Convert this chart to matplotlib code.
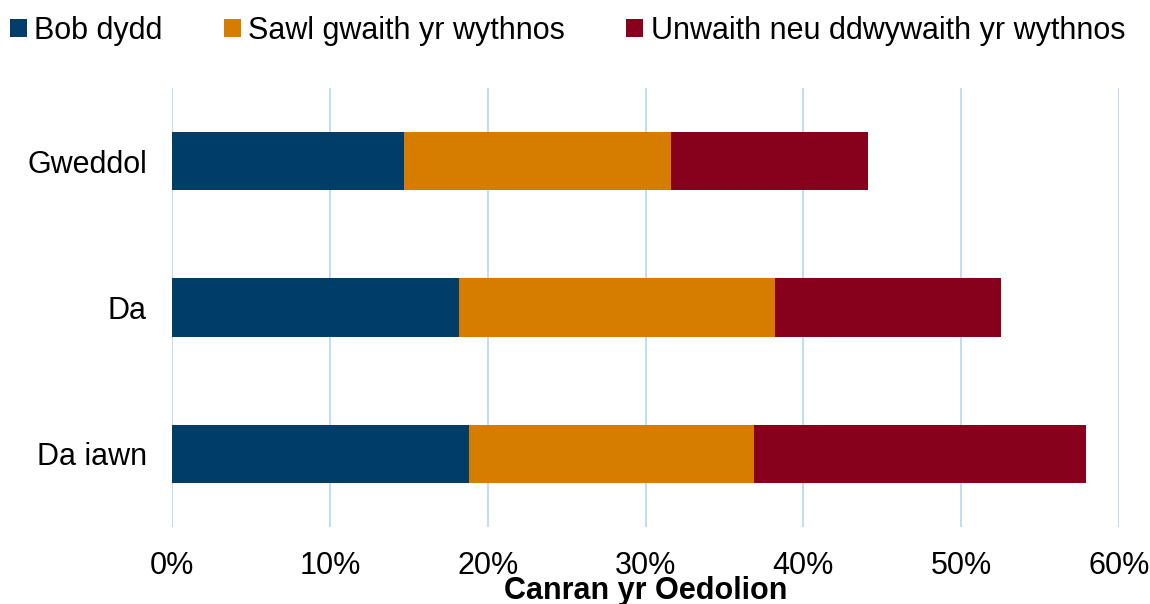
import matplotlib
matplotlib.use("Agg")
import matplotlib.pyplot as plt
from matplotlib.patches import Patch
from matplotlib.ticker import FuncFormatter, MultipleLocator

plt.rcParams['font.family'] = ['Liberation Sans', 'DejaVu Sans']

categories = ["Gweddol", "Da", "Da iawn"]
series_names = ["Bob dydd", "Sawl gwaith yr wythnos", "Unwaith neu ddwywaith yr wythnos"]
bob_dydd = [14.7, 18.2, 18.8]
sawl_gwaith = [16.9, 20.0, 18.1]
unwaith = [12.5, 14.3, 21.0]
colors = ["#003D69", "#D67D00", "#87001C"]
x_label = "Canran yr Oedolion"

fig = plt.figure(figsize=(11.5, 6.04), dpi=100)
ax = fig.add_axes([172/1150, 1 - 527/604, (1119 - 172)/1150, (527 - 88)/604])

ypos = list(range(len(categories)))
left = [0.0] * len(categories)
for vals, col in zip([bob_dydd, sawl_gwaith, unwaith], colors):
    ax.barh(ypos, vals, left=left, height=0.4, color=col, zorder=3)
    left = [l + v for l, v in zip(left, vals)]

ax.set_ylim(len(categories) - 0.5, -0.5)
ax.set_yticks(ypos)
ax.set_yticklabels(categories, fontsize=22)
ax.set_xlim(0, 60)
ax.xaxis.set_major_locator(MultipleLocator(10))
ax.xaxis.set_major_formatter(FuncFormatter(lambda v, p: f"{v:.0f}%"))
ax.tick_params(axis='x', labelsize=22, length=0, pad=17)
ax.tick_params(axis='y', length=0, pad=18)
ax.grid(axis='x', color="#C4DAF5", linewidth=1.5, zorder=0)
ax.grid(axis='y', visible=False)
for s in ax.spines.values():
    s.set_visible(False)
ax.set_xlabel(x_label, fontsize=22, fontweight='bold', labelpad=-3)

handles = [Patch(facecolor=c, edgecolor='none', label=n) for c, n in zip(colors, series_names)]
fig.legend(handles=handles, loc='center left', bbox_to_anchor=(10/1150, 1 - 31/604),
           ncol=3, frameon=False, fontsize=22, handlelength=0.55, handleheight=0.55,
           handletextpad=0.25, columnspacing=2.0, borderpad=0, borderaxespad=0)

fig.savefig("out.png", dpi=100, facecolor="white")
